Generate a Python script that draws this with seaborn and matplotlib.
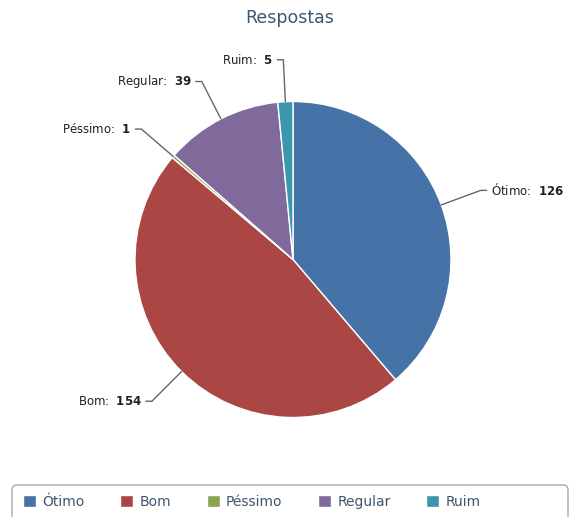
import numpy as np
import matplotlib.pyplot as plt
import seaborn as sns
from matplotlib.patches import FancyBboxPatch

# dados
categorias = ["Ótimo", "Bom", "Péssimo", "Regular", "Ruim"]
respostas = [126, 154, 1, 39, 5]
cores = ["#4572A7", "#AA4643", "#89A54E", "#80699B", "#3D96AE"]
titulo = "Respostas"

sns.set_style("white")
plt.rcParams["font.family"] = ["DejaVu Sans"]
plt.rcParams["mathtext.fontset"] = "dejavusans"

W, H = 571, 517
fig = plt.figure(figsize=(W / 100, H / 100), dpi=100)
ax = fig.add_axes([0, 0, 1, 1])

cx, cy, r = 293, H - 259.5, 158
wedges, _ = ax.pie(
    respostas,
    colors=cores,
    startangle=90,
    counterclock=False,
    center=(cx, cy),
    radius=r,
    wedgeprops=dict(edgecolor="white", linewidth=1),
)
ax.set_xlim(0, W)
ax.set_ylim(0, H)
ax.set_aspect("equal")
ax.axis("off")

# rótulos com conectores
for w, nome, val in zip(wedges, categorias, respostas):
    ang = np.deg2rad((w.theta1 + w.theta2) / 2)
    c, s = np.cos(ang), np.sin(ang)
    lado = 1 if c >= 0 else -1
    bx, by = cx + r * c, cy + r * s
    ex, ey = cx + (r + 42) * c, cy + (r + 42) * s
    hx = ex + lado * 6
    ax.plot([bx, ex, hx], [by, ey, ey], color="#666666", lw=1)
    ax.text(
        hx + lado * 4, ey, nome + r":  $\mathbf{" + str(val) + "}$",
        ha="left" if lado > 0 else "right", va="center",
        fontsize=8.5, color="#222222",
    )

fig.text(0.507, 1 - 18 / H, titulo, ha="center", va="center",
         fontsize=12.5, color="#3E576F")

# caixa da legenda (cortada embaixo, como no original)
caixa = FancyBboxPatch((12, -12), 556, H - 485 + 12,
                       boxstyle="round,pad=0,rounding_size=5",
                       fc="white", ec="#a8a8a8", lw=1, clip_on=False)
ax.add_patch(caixa)

leg = fig.legend(
    wedges, categorias, loc="center left", ncol=5,
    bbox_to_anchor=(23 / W, 1 - 502 / H), frameon=False,
    fontsize=10, handlelength=0.95, handleheight=0.95,
    columnspacing=2.55, handletextpad=0.45, borderpad=0, borderaxespad=0,
)
for t in leg.get_texts():
    t.set_color("#3E576F")

plt.savefig("out.png", dpi=100)
